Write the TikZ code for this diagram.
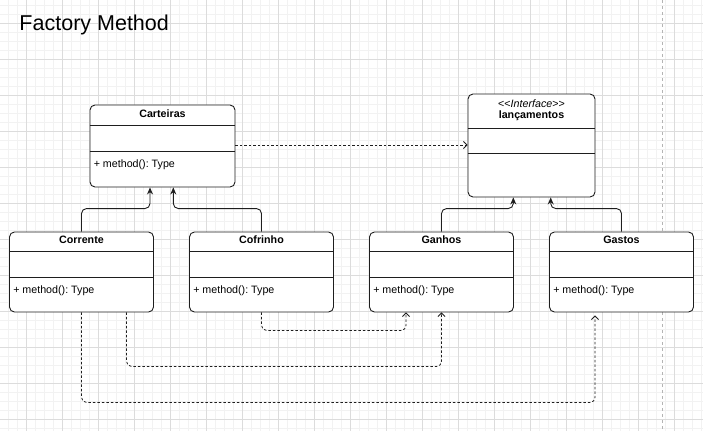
\documentclass[tikz,border=0pt]{standalone}
\usepackage{fontspec}
\setmainfont{Liberation Sans}
\usetikzlibrary{arrows.meta, positioning, calc}
\definecolor{gridmajor}{HTML}{DCDCDC}
\definecolor{gridminor}{HTML}{F2F2F2}
\definecolor{pagebreak}{HTML}{B4B4B4}
\definecolor{umldark}{HTML}{1E1E1E}
\frenchspacing

\begin{document}
\begin{tikzpicture}[x=1pt, y=-1pt,
  every node/.style={font=\fontsize{10.7}{12}\selectfont, inner sep=0pt},
  umlclass/.style={draw=umldark, rounded corners=5pt, line width=0.9pt, fill=white, minimum width=144pt, minimum height=80pt},
  umlsep/.style={draw=umldark, line width=0.9pt},
  classname/.style={font=\fontsize{10.7}{12}\selectfont\bfseries},
  member/.style={anchor=west},
  extends/.style={draw=umldark, line width=0.9pt, rounded corners=5pt, -{Stealth[length=7pt, width=6pt]}},
  realizes/.style={draw=umldark, line width=0.8pt, dash pattern=on 2.5pt off 2pt, rounded corners=5pt, -{Straight Barb[length=3.5pt, width=7pt]}},
]

% Background and grid
\fill[white] (0,0) rectangle (703,431);
\useasboundingbox (0,0) rectangle (703,431);
\foreach \gx in {8.3,17.3,...,703} \draw[gridminor, line width=0.5pt] (\gx,0) -- (\gx,431);
\foreach \gy in {5.3,14.3,...,431} \draw[gridminor, line width=0.5pt] (0,\gy) -- (703,\gy);
\foreach \gx in {26.3,62.3,...,703} \draw[gridmajor, line width=0.6pt] (\gx,0) -- (\gx,431);
\foreach \gy in {23.3,59.3,...,431} \draw[gridmajor, line width=0.6pt] (0,\gy) -- (703,\gy);
\draw[pagebreak, line width=0.6pt, dash pattern=on 3pt off 3pt] (662.7,0) -- (662.7,431);

% Title
\node[anchor=base west, font=\fontsize{21.5}{25}\selectfont] (title) at (19.3,30.5) {Factory Method};

% Classes
\node[umlclass, minimum width=145pt, minimum height=82pt] (carteiras) at (162.5,146) {};
\node[umlclass, minimum width=127pt, minimum height=103pt] (lancamentos) at (531.5,145.5) {};
\node[umlclass] (corrente) at (81.5,272) {};
\node[umlclass] (cofrinho) at (261.5,272) {};
\node[umlclass] (ganhos) at (441.5,272) {};
\node[umlclass] (gastos) at (621.5,272) {};

% Compartments
\draw[umlsep] ([yshift=-21pt]carteiras.north west) -- ([yshift=-21pt]carteiras.north east);
\draw[umlsep] ([yshift=-47pt]carteiras.north west) -- ([yshift=-47pt]carteiras.north east);
\draw[umlsep] ([yshift=-35.3pt]lancamentos.north west) -- ([yshift=-35.3pt]lancamentos.north east);
\draw[umlsep] ([yshift=-59.7pt]lancamentos.north west) -- ([yshift=-59.7pt]lancamentos.north east);
\foreach \cls in {corrente, cofrinho, ganhos, gastos} {
  \draw[umlsep] ([yshift=-20.3pt]\cls.north west) -- ([yshift=-20.3pt]\cls.north east);
  \draw[umlsep] ([yshift=-46.3pt]\cls.north west) -- ([yshift=-46.3pt]\cls.north east);
}

% Names and members
\node[classname] (carteiras-name) at ([yshift=-9.5pt]carteiras.north) {Carteiras};
\node[member] (carteiras-op) at ([xshift=4pt, yshift=-60.5pt]carteiras.north west) {+ method(): Type};
\node (lancamentos-stereo) at ([yshift=-10pt]lancamentos.north) {<{}<\textit{Interface}>{}>};
\node[classname] (lancamentos-name) at ([yshift=-22.5pt]lancamentos.north) {lançamentos};
\node[classname] (corrente-name) at ([yshift=-8.5pt]corrente.north) {Corrente};
\node[classname] (cofrinho-name) at ([yshift=-8.5pt]cofrinho.north) {Cofrinho};
\node[classname] (ganhos-name) at ([yshift=-8.5pt]ganhos.north) {Ganhos};
\node[classname] (gastos-name) at ([yshift=-8.5pt]gastos.north) {Gastos};
\foreach \cls in {corrente, cofrinho, ganhos, gastos}
  \node[member] (\cls-op) at ([xshift=4pt, yshift=-59.5pt]\cls.north west) {+ method(): Type};

% Inheritance
\draw[extends] (corrente.north) -- ++(0,-23) -| ([xshift=-12.5pt]carteiras.south);
\draw[extends] (cofrinho.north) -- ++(0,-23) -| ([xshift=10.8pt]carteiras.south);
\draw[extends] (ganhos.north) -- ++(0,-23) -| ([xshift=-18.2pt]lancamentos.south);
\draw[extends] (gastos.north) -- ++(0,-23) -| ([xshift=19.2pt]lancamentos.south);

% Dependencies
\draw[realizes] ([yshift=1pt]carteiras.east) -- ([yshift=1pt]carteiras.east -| lancamentos.west);
\draw[realizes] (cofrinho.south) -- ++(0,18) -| ([xshift=-35.5pt]ganhos.south);
\draw[realizes] ([xshift=45pt]corrente.south) -- ++(0,54) -| (ganhos.south);
\draw[realizes, shorten >=3pt] (corrente.south) -- ++(0,90) -| ([xshift=-26.5pt]gastos.south);

\end{tikzpicture}
\end{document}
